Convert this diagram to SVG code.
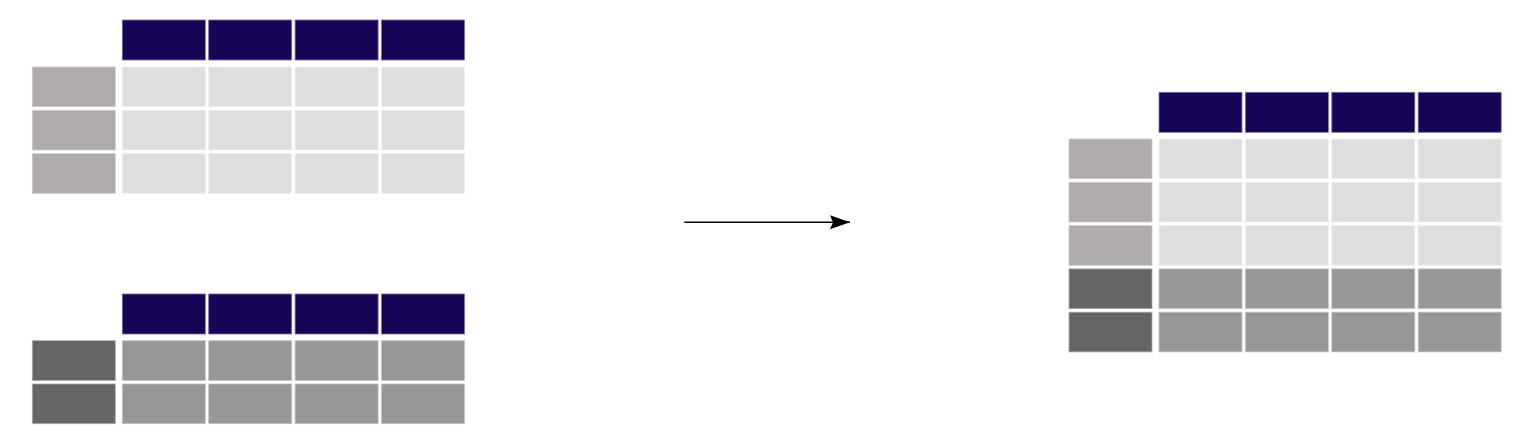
<svg xmlns="http://www.w3.org/2000/svg" width="1536" height="447" viewBox="0 0 1536 447">
<style>
.h{fill:#170456;stroke:#7a6ea6;stroke-width:0.8}
.c{fill:#dfdddf;stroke:#efefef;stroke-width:0.8}
.i{fill:#afabaa;stroke:#cfcccb;stroke-width:0.8}
.di{fill:#656565;stroke:#a8a8a8;stroke-width:0.8}
.dc{fill:#979797;stroke:#c4c4c4;stroke-width:0.8}
</style>
<defs>
<marker id="ah" markerWidth="20" markerHeight="16" refX="20" refY="7" orient="auto" markerUnits="userSpaceOnUse">
<path d="M0,0 L20,7 L0,14 L3,7 Z" fill="#000"/>
</marker>
</defs>
<rect width="1536" height="447" fill="#fff"/>
<g id="table-top">
<rect class="h" x="122.3" y="20" width="83" height="40"/>
<rect class="h" x="208.7" y="20" width="83" height="40"/>
<rect class="h" x="295.1" y="20" width="83" height="40"/>
<rect class="h" x="381.5" y="20" width="83" height="40"/>
<rect class="i" x="32.3" y="67" width="83" height="39.7"/>
<rect class="c" x="122.3" y="67" width="83" height="39.7"/>
<rect class="c" x="208.7" y="67" width="83" height="39.7"/>
<rect class="c" x="295.1" y="67" width="83" height="39.7"/>
<rect class="c" x="381.5" y="67" width="83" height="39.7"/>
<rect class="i" x="32.3" y="110.3" width="83" height="39.7"/>
<rect class="c" x="122.3" y="110.3" width="83" height="39.7"/>
<rect class="c" x="208.7" y="110.3" width="83" height="39.7"/>
<rect class="c" x="295.1" y="110.3" width="83" height="39.7"/>
<rect class="c" x="381.5" y="110.3" width="83" height="39.7"/>
<rect class="i" x="32.3" y="153.6" width="83" height="39.7"/>
<rect class="c" x="122.3" y="153.6" width="83" height="39.7"/>
<rect class="c" x="208.7" y="153.6" width="83" height="39.7"/>
<rect class="c" x="295.1" y="153.6" width="83" height="39.7"/>
<rect class="c" x="381.5" y="153.6" width="83" height="39.7"/>
</g>
<g id="table-bottom">
<rect class="h" x="122.3" y="294" width="83" height="40"/>
<rect class="h" x="208.7" y="294" width="83" height="40"/>
<rect class="h" x="295.1" y="294" width="83" height="40"/>
<rect class="h" x="381.5" y="294" width="83" height="40"/>
<rect class="di" x="32.3" y="340.7" width="83" height="39.7"/>
<rect class="dc" x="122.3" y="340.7" width="83" height="39.7"/>
<rect class="dc" x="208.7" y="340.7" width="83" height="39.7"/>
<rect class="dc" x="295.1" y="340.7" width="83" height="39.7"/>
<rect class="dc" x="381.5" y="340.7" width="83" height="39.7"/>
<rect class="di" x="32.3" y="384" width="83" height="39.7"/>
<rect class="dc" x="122.3" y="384" width="83" height="39.7"/>
<rect class="dc" x="208.7" y="384" width="83" height="39.7"/>
<rect class="dc" x="295.1" y="384" width="83" height="39.7"/>
<rect class="dc" x="381.5" y="384" width="83" height="39.7"/>
</g>
<g id="table-result">
<rect class="h" x="1159" y="92.3" width="83" height="40"/>
<rect class="h" x="1245.4" y="92.3" width="83" height="40"/>
<rect class="h" x="1331.8" y="92.3" width="83" height="40"/>
<rect class="h" x="1418.2" y="92.3" width="83" height="40"/>
<rect class="i" x="1069" y="139" width="83" height="39.7"/>
<rect class="c" x="1159" y="139" width="83" height="39.7"/>
<rect class="c" x="1245.4" y="139" width="83" height="39.7"/>
<rect class="c" x="1331.8" y="139" width="83" height="39.7"/>
<rect class="c" x="1418.2" y="139" width="83" height="39.7"/>
<rect class="i" x="1069" y="182.3" width="83" height="39.7"/>
<rect class="c" x="1159" y="182.3" width="83" height="39.7"/>
<rect class="c" x="1245.4" y="182.3" width="83" height="39.7"/>
<rect class="c" x="1331.8" y="182.3" width="83" height="39.7"/>
<rect class="c" x="1418.2" y="182.3" width="83" height="39.7"/>
<rect class="i" x="1069" y="225.6" width="83" height="39.7"/>
<rect class="c" x="1159" y="225.6" width="83" height="39.7"/>
<rect class="c" x="1245.4" y="225.6" width="83" height="39.7"/>
<rect class="c" x="1331.8" y="225.6" width="83" height="39.7"/>
<rect class="c" x="1418.2" y="225.6" width="83" height="39.7"/>
<rect class="di" x="1069" y="268.9" width="83" height="39.7"/>
<rect class="dc" x="1159" y="268.9" width="83" height="39.7"/>
<rect class="dc" x="1245.4" y="268.9" width="83" height="39.7"/>
<rect class="dc" x="1331.8" y="268.9" width="83" height="39.7"/>
<rect class="dc" x="1418.2" y="268.9" width="83" height="39.7"/>
<rect class="di" x="1069" y="312.2" width="83" height="39.7"/>
<rect class="dc" x="1159" y="312.2" width="83" height="39.7"/>
<rect class="dc" x="1245.4" y="312.2" width="83" height="39.7"/>
<rect class="dc" x="1331.8" y="312.2" width="83" height="39.7"/>
<rect class="dc" x="1418.2" y="312.2" width="83" height="39.7"/>
</g>
<g id="connectors">
<line x1="684.3" y1="222.3" x2="850" y2="222.3" stroke="#000" stroke-width="1.5" marker-end="url(#ah)"/>
</g>
</svg>
